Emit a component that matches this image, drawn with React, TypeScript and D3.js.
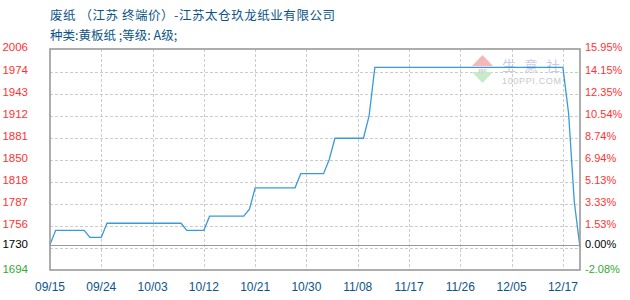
import React from "react";
import * as d3 from "d3";

// Price series: trading-day index and price (yuan/ton)
const dayIndex = [0, 1, 6, 7, 9, 10, 23, 24, 27, 28, 34, 35, 36, 43, 44, 48, 49, 50, 55, 56, 57, 90, 91, 92, 93];
const price = [1730, 1750, 1750, 1740, 1740, 1760, 1760, 1750, 1750, 1770, 1770, 1780, 1810, 1810, 1830, 1830, 1850, 1880, 1880, 1912, 1980, 1980, 1915, 1790, 1726];

// X axis labels and their day index
const xTickIndex = [0, 9, 18, 27, 36, 45, 54, 63, 72, 81, 90];
const xTickLabels = ["09/15", "09/24", "10/03", "10/12", "10/21", "10/30", "11/08", "11/17", "11/26", "12/05", "12/17"];

// Y axis labels (price) and the matching change vs. base price
const yTickValues = [2006, 1974, 1943, 1912, 1881, 1850, 1818, 1787, 1756];
const pctLabels = ["15.95%", "14.15%", "12.35%", "10.54%", "8.74%", "6.94%", "5.13%", "3.33%", "1.53%"];
const gridOnly = [1725];
const basePrice = 1730;
const minPrice = 1694;
const basePct = "0.00%";
const minPct = "-2.08%";

const titleLine1 = "废纸 （江苏 终端价）-江苏太仓玖龙纸业有限公司";
const titleLine2 = "种类:黄板纸 ;等级: A级;";

const W = 630;
const H = 300;
const plot = { left: 50, right: 580, top: 49, bottom: 270 };

export default function App() {
  const x = d3.scaleLinear().domain([0, 93]).range([plot.left, plot.right]);
  const y = d3.scaleLinear().domain([minPrice, 2006]).range([plot.bottom, plot.top]);

  const pts: [number, number][] = dayIndex.map((d, i) => [d, price[i]]);
  const line = d3
    .line<[number, number]>()
    .x((d) => x(d[0]))
    .y((d) => y(d[1]));

  const red = "#ff3333";
  const green = "#33aa33";
  const numFont = "'Liberation Sans', Arial, sans-serif";
  const cjkFont = "'Noto Sans CJK SC', sans-serif";

  return (
    <svg
      width={W}
      height={H}
      style={{ position: "absolute", left: 0, top: 0, background: "#fff" }}
    >
      {/* title */}
      <text x={50} y={20} fontFamily={cjkFont} fontSize={12.5} fill="#0b5486" textLength={285} lengthAdjust="spacing">
        {titleLine1}
      </text>
      <text x={50} y={40} fontFamily={cjkFont} fontSize={12.5} fill="#0b5486">
        {titleLine2}
      </text>

      {/* horizontal grid */}
      {[...yTickValues.slice(1), ...gridOnly].map((v) => (
        <line
          key={"h" + v}
          x1={plot.left}
          x2={plot.right}
          y1={Math.round(y(v)) + 0.5}
          y2={Math.round(y(v)) + 0.5}
          stroke="#cccccc"
          strokeDasharray="3,2"
        />
      ))}
      {/* vertical grid */}
      {xTickIndex.slice(1).map((d) => (
        <line
          key={"v" + d}
          x1={Math.round(x(d)) + 0.5}
          x2={Math.round(x(d)) + 0.5}
          y1={plot.top}
          y2={plot.bottom}
          stroke="#cccccc"
          strokeDasharray="3,2"
        />
      ))}

      {/* watermark */}
      <g>
        <polygon points="472,66 493,66 482.5,55" fill="#f5b8b8" />
        <polygon points="472,72 493,72 482.5,83" fill="#c6ebc6" />
        <text x={482.5} y={71.5} textAnchor="middle" fontFamily={numFont} fontSize={6} fill="#aab4d0">
          ppi
        </text>
        <text x={502} y={71} fontFamily={cjkFont} fontSize={14} fill="#c9cde2" letterSpacing={8}>
          生意社
        </text>
        <text x={502} y={84} fontFamily={numFont} fontSize={9} fill="#c8c8c8" textLength={59} lengthAdjust="spacing">
          100PPI.COM
        </text>
      </g>

      {/* base price line */}
      <line
        x1={plot.left}
        x2={plot.right}
        y1={Math.round(y(basePrice)) + 0.5}
        y2={Math.round(y(basePrice)) + 0.5}
        stroke="#999999"
        strokeWidth={1}
      />

      {/* price line */}
      <path d={line(pts) || ""} fill="none" stroke="#3a9ad9" strokeWidth={1.3} />

      {/* frame */}
      <rect
        x={plot.left}
        y={plot.top}
        width={plot.right - plot.left}
        height={plot.bottom - plot.top}
        fill="none"
        stroke="#999999"
        strokeWidth={1.6}
      />

      {/* left axis labels */}
      {yTickValues.map((v) => (
        <text key={"l" + v} x={28} y={y(v) + 2} textAnchor="end" fontFamily={numFont} fontSize={11.5} fill={red}>
          {v}
        </text>
      ))}
      <text x={28} y={y(basePrice) + 3} textAnchor="end" fontFamily={numFont} fontSize={11.5} fill="#000">
        {basePrice}
      </text>
      <text x={28} y={y(minPrice) + 3} textAnchor="end" fontFamily={numFont} fontSize={11.5} fill={green}>
        {minPrice}
      </text>

      {/* right axis labels */}
      {yTickValues.map((v, i) => (
        <text key={"r" + v} x={585} y={y(v) + 2} fontFamily={numFont} fontSize={11} fill={red}>
          {pctLabels[i]}
        </text>
      ))}
      <text x={585} y={y(basePrice) + 3} fontFamily={numFont} fontSize={11} fill="#000">
        {basePct}
      </text>
      <text x={585} y={y(minPrice) + 3} fontFamily={numFont} fontSize={11} fill={green}>
        {minPct}
      </text>

      {/* x axis labels */}
      {xTickIndex.map((d, i) => (
        <text key={"x" + d} x={x(d)} y={291} textAnchor="middle" fontFamily={numFont} fontSize={12} fill="#0b5486">
          {xTickLabels[i]}
        </text>
      ))}
    </svg>
  );
}
